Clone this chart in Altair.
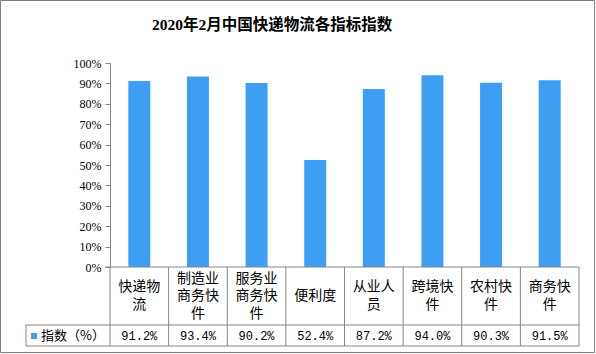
import altair as alt
import pandas as pd

title_text = "2020年2月中国快递物流各指标指数"
categories = ["快递物流", "制造业商务快件", "服务业商务快件", "便利度", "从业人员", "跨境快件", "农村快件", "商务快件"]
labels = ["快递物\n流", "制造业\n商务快\n件", "服务业\n商务快\n件", "便利度", "从业人\n员", "跨境快\n件", "农村快\n件", "商务快\n件"]
values = [91.2, 93.4, 90.2, 52.4, 87.2, 94.0, 90.3, 91.5]
series_name = "指数（%）"

df = pd.DataFrame({
    "cat": categories,
    "label": labels,
    "nlines": [len(s.split("\n")) for s in labels],
    "value": values,
    "vtext": [f"{v:.1f}%" for v in values],
})

W, H = 469, 204
BLUE = "#3d9ef4"
GRAY = "#868686"
CJK = "Noto Sans CJK SC"
LH = 17.5
CELL_MID = 296 - 63

xscale = alt.Scale(domain=categories, paddingInner=0, paddingOuter=0)
X = alt.X("cat:N", scale=xscale, axis=None, sort=categories)
XC = alt.X("cat:N", scale=xscale, axis=None, sort=categories, bandPosition=0.5)

base = alt.Chart(df)

bars = base.mark_bar(color=BLUE, width=alt.RelativeBandSize(0.375)).encode(
    x=X,
    y=alt.Y("value:Q", scale=alt.Scale(domain=[0, 100], nice=False),
            axis=alt.Axis(values=list(range(0, 101, 10)), labelExpr="datum.value + '%'",
                          title=None, grid=False, domainColor=GRAY, tickColor=GRAY,
                          tickSize=5, labelPadding=4, labelFont="Liberation Serif",
                          labelFontSize=12, labelColor="#000")),
)

vlines = base.mark_rule(color=GRAY, strokeWidth=1).encode(
    x=alt.X("cat:N", scale=xscale, axis=None, sort=categories, bandPosition=0),
    y=alt.value(H), y2=alt.value(283),
)

cat_layers = []
for n in (1, 2, 3):
    cat_layers.append(
        base.transform_filter(alt.datum.nlines == n).mark_text(
            font=CJK, fontSize=14, lineBreak="\n", lineHeight=LH,
            baseline="middle", align="center", color="#000").encode(
            x=XC,
            y=alt.value(CELL_MID - (n - 1) * LH / 2),
            text="label:N",
        )
    )

val_text = base.mark_text(font="Liberation Mono", fontSize=12, baseline="middle",
                          align="center", color="#000").encode(
    x=XC,
    y=alt.value(273),
    text="vtext:N",
)

one = pd.DataFrame({"t": [title_text], "s": [series_name]})
deco = alt.Chart(one)

hlines = alt.layer(
    deco.mark_rule(color=GRAY).encode(x=alt.value(-5), x2=alt.value(W), y=alt.value(H)),
    deco.mark_rule(color=GRAY).encode(x=alt.value(-84), x2=alt.value(W), y=alt.value(262)),
    deco.mark_rule(color=GRAY).encode(x=alt.value(-84), x2=alt.value(W), y=alt.value(283)),
    deco.mark_rule(color=GRAY).encode(x=alt.value(-84), y=alt.value(262), y2=alt.value(283)),
    deco.mark_rule(color=GRAY).encode(x=alt.value(W), y=alt.value(H), y2=alt.value(283)),
)

legend_sq = deco.mark_square(color=BLUE, size=36, opacity=1, filled=True).encode(
    x=alt.value(-76), y=alt.value(273))
legend_txt = deco.mark_text(font=CJK, fontSize=13, align="left", baseline="middle",
                            color="#000").encode(x=alt.value(-69), y=alt.value(273), text="s:N")

title = deco.mark_text(font="Liberation Serif, Noto Sans CJK SC", fontSize=15.5,
                       fontWeight="bold", align="center", baseline="middle",
                       color="#000").encode(x=alt.value(272 - 110), y=alt.value(25 - 63), text="t:N")

border = deco.mark_rect(fill=None, stroke="#808080", strokeWidth=1).encode(
    x=alt.value(-109.5), x2=alt.value(594.5 - 110), y=alt.value(-62.5), y2=alt.value(352.5 - 63))

chart = alt.layer(bars, vlines, *cat_layers, val_text, hlines, legend_sq, legend_txt, title, border).properties(
    width=W, height=H,
    autosize=alt.AutoSizeParams(type="none"),
    padding={"left": 110, "top": 63, "right": 596 - 110 - W, "bottom": 354 - 63 - H},
    background="white",
).configure_view(stroke=None)

chart.save("out.html", embed_options={"renderer": "svg", "actions": False})
